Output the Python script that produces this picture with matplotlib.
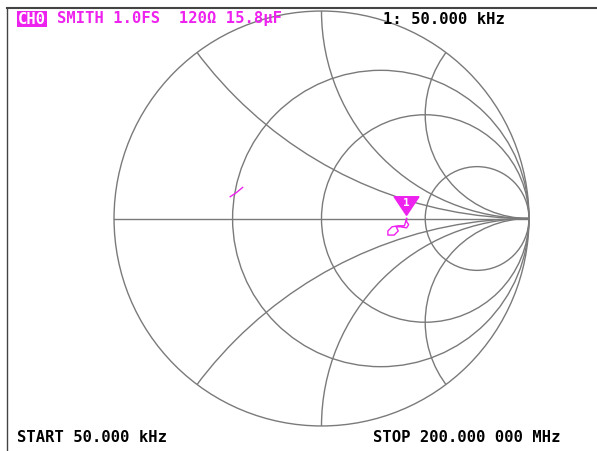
import numpy as np
import matplotlib.pyplot as plt
from matplotlib.patches import Circle, Polygon
from matplotlib.lines import Line2D

# Smith chart graticule
resistances = [0.4, 1.0, 3.0]
reactances = [0.5, 1.0, 2.0]

# measured reflection coefficient (real, imag)
trace_a_re = [-0.44, -0.41, -0.38]
trace_a_im = [0.105, 0.125, 0.15]
trace_b_re = [0.41, 0.40, 0.37, 0.34, 0.32, 0.32, 0.35, 0.37, 0.36, 0.38, 0.41, 0.42, 0.41, 0.41]
trace_b_im = [0.0, -0.035, -0.035, -0.04, -0.06, -0.08, -0.08, -0.06, -0.04, -0.04, -0.045, -0.03, -0.015, 0.0]
marker_re, marker_im = 0.41, 0.0

grid_color = '#7a7a7a'
magenta = '#ee22ee'

fig = plt.figure(figsize=(5.97, 4.51), dpi=100)
fig.patch.set_facecolor('white')

ax = fig.add_axes([113 / 597, 24 / 451, 417 / 597, 417 / 451])
ax.set_xlim(-1.005, 1.005)
ax.set_ylim(-1.005, 1.005)
ax.set_aspect('equal')
ax.axis('off')

outer = Circle((0, 0), 1.0, fill=False, color=grid_color, lw=1.0)
ax.add_patch(outer)
ax.plot([-1, 1], [0, 0], color=grid_color, lw=1.0)

for r in resistances:
    ax.add_patch(Circle((r / (1 + r), 0), 1 / (1 + r), fill=False, color=grid_color, lw=1.0))

clip = Circle((0, 0), 1.0, transform=ax.transData, fill=False)
for x in reactances:
    for s in (1, -1):
        arc = Circle((1, s / x), 1 / x, fill=False, color=grid_color, lw=1.0)
        ax.add_patch(arc)
        arc.set_clip_path(clip)

ax.plot(trace_a_re, trace_a_im, color=magenta, lw=1.0)
ax.plot(trace_b_re, trace_b_im, color=magenta, lw=1.0)

# marker 1
tri = Polygon([[marker_re - 0.06, 0.105], [marker_re + 0.06, 0.105], [marker_re, 0.015]],
              closed=True, color=magenta)
ax.add_patch(tri)
ax.text(marker_re, 0.075, '1', color='white', fontsize=8, fontweight='bold',
        family='DejaVu Sans Mono', ha='center', va='center')

# screen frame
fig.add_artist(Line2D([7 / 597, 1], [1 - 8 / 451, 1 - 8 / 451], color='#444444', lw=1.5))
fig.add_artist(Line2D([7 / 597, 7 / 597], [0, 1 - 8 / 451], color='#444444', lw=1.0))

mono = dict(family='DejaVu Sans Mono', fontweight='bold', fontsize=11.2, va='center')
fig.text(18 / 597, 1 - 19 / 451, 'CH0', color='white',
         bbox=dict(boxstyle='square,pad=0.05', fc=magenta, ec='none'), **mono)
fig.text(57 / 597, 1 - 19 / 451, 'SMITH 1.0FS  120\u03a9 15.8\u00b5F', color=magenta, **mono)
fig.text(383 / 597, 1 - 20 / 451, '1: 50.000 kHz', color='black', **mono)
fig.text(17 / 597, 1 - 438 / 451, 'START 50.000 kHz', color='black', **mono)
fig.text(373 / 597, 1 - 438 / 451, 'STOP 200.000 000 MHz', color='black', **mono)

fig.savefig('out.png', dpi=100, facecolor='white')
